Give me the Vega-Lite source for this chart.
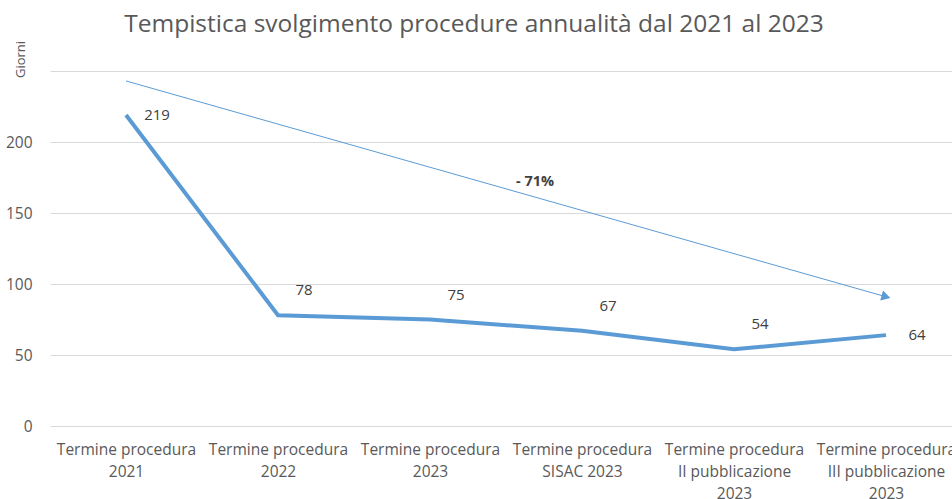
{
  "$schema": "https://vega.github.io/schema/vega-lite/v6.json",
  "autosize": "none",
  "width": 912,
  "height": 355,
  "padding": {"left": 50, "top": 71, "right": 0, "bottom": 73},
  "background": "white",
  "config": {
    "font": "Open Sans",
    "view": {"stroke": null},
    "title": {"font": "Open Sans", "fontSize": 24.5, "fontWeight": "normal", "color": "#595959"}
  },
  "title": {"text": "Tempistica svolgimento procedure annualità dal 2021 al 2023", "anchor": "middle", "dx": -32, "offset": 3},
  "datasets": {
    "main": [
      {"categoria": "Termine procedura 2021", "giorni": 219, "pos": "lato"},
      {"categoria": "Termine procedura 2022", "giorni": 78, "pos": "sopra"},
      {"categoria": "Termine procedura 2023", "giorni": 75, "pos": "sopra"},
      {"categoria": "Termine procedura SISAC 2023", "giorni": 67, "pos": "sopra"},
      {"categoria": "Termine procedura II pubblicazione 2023", "giorni": 54, "pos": "sopra"},
      {"categoria": "Termine procedura III pubblicazione 2023", "giorni": 64, "pos": "lato"}
    ],
    "freccia": [
      {"categoria": "Termine procedura 2021", "fine": "Termine procedura III pubblicazione 2023", "inizio_y": 243, "fine_y": 91}
    ],
    "punta": [
      {"categoria": "Termine procedura III pubblicazione 2023", "y": 91}
    ],
    "nota": [
      {"categoria": "Termine procedura SISAC 2023", "y": 172, "testo": "- 71%"}
    ]
  },
  "encoding": {
    "x": {
      "field": "categoria",
      "type": "ordinal",
      "scale": {"type": "point", "padding": 0.5, "domain": ["Termine procedura 2021", "Termine procedura 2022", "Termine procedura 2023", "Termine procedura SISAC 2023", "Termine procedura II pubblicazione 2023", "Termine procedura III pubblicazione 2023"]},
      "axis": {
        "title": null,
        "labelAngle": 0,
        "labelFontSize": 15.5,
        "labelColor": "#595959",
        "labelPadding": 23,
        "labelLineHeight": 22,
        "labelLimit": 0,
        "labelBaseline": "middle",
        "domain": false,
        "ticks": false,
        "grid": false,
        "labelExpr": "split(replace(replace(datum.label, 'procedura ', 'procedura|'), 'pubblicazione ', 'pubblicazione|'), '|')"
      }
    }
  },
  "layer": [
    {
      "data": {"name": "main"},
      "mark": {"type": "line", "color": "#5b9bd5", "strokeWidth": 4},
      "encoding": {
        "y": {
          "field": "giorni",
          "type": "quantitative",
          "scale": {"domain": [0, 250], "nice": false},
          "axis": {
            "title": "Giorni",
            "titleFontSize": 13,
            "titleFontWeight": "normal",
            "titleColor": "#595959",
            "titleAngle": 270,
            "titleX": -30,
            "titleY": -12,
            "titleAlign": "center",
            "titleBaseline": "middle",
            "values": [0, 50, 100, 150, 200, 250],
            "labelExpr": "datum.value == 250 ? '' : datum.label",
            "labelFontSize": 15.5,
            "labelColor": "#595959",
            "labelPadding": 18,
            "domain": false,
            "ticks": false,
            "grid": true,
            "gridColor": "#d9d9d9",
            "gridWidth": 1
          }
        }
      }
    },
    {
      "data": {"name": "main"},
      "transform": [{"filter": "datum.pos == 'sopra'"}],
      "mark": {"type": "text", "dx": 26, "dy": -25, "fontSize": 15, "color": "#404040"},
      "encoding": {
        "y": {"field": "giorni", "type": "quantitative"},
        "text": {"field": "giorni", "type": "quantitative"}
      }
    },
    {
      "data": {"name": "main"},
      "transform": [{"filter": "datum.pos == 'lato'"}],
      "mark": {"type": "text", "dx": 31, "dy": 0, "fontSize": 15, "color": "#404040"},
      "encoding": {
        "y": {"field": "giorni", "type": "quantitative"},
        "text": {"field": "giorni", "type": "quantitative"}
      }
    },
    {
      "data": {"name": "freccia"},
      "mark": {"type": "rule", "color": "#5b9bd5", "strokeWidth": 1},
      "encoding": {
        "x2": {"field": "fine"},
        "y": {"field": "inizio_y", "type": "quantitative"},
        "y2": {"field": "fine_y"}
      }
    },
    {
      "data": {"name": "punta"},
      "mark": {"type": "point", "shape": "triangle-right", "filled": true, "color": "#5b9bd5", "opacity": 1, "size": 110, "angle": 15.7},
      "encoding": {
        "y": {"field": "y", "type": "quantitative"}
      }
    },
    {
      "data": {"name": "nota"},
      "mark": {"type": "text", "dx": -47, "fontSize": 14.5, "fontWeight": "bold", "color": "#404040"},
      "encoding": {
        "y": {"field": "y", "type": "quantitative"},
        "text": {"field": "testo"}
      }
    }
  ]
}
